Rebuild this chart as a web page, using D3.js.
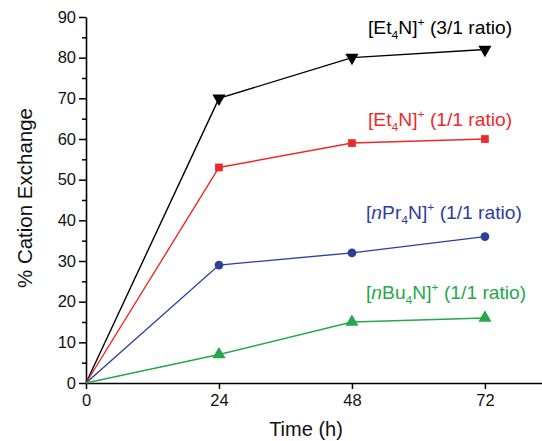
<!DOCTYPE html>
<html>
<head>
<meta charset="utf-8">
<script src="https://cdn.jsdelivr.net/npm/d3@7"></script>
<style>
body { margin: 0; background: #fff; }
text { font-family: Arial, "Liberation Sans", sans-serif; }
</style>
</head>
<body>
<svg id="chart" width="542" height="441"></svg>
<script>
// data
var hours = [0, 24, 48, 72];
var et4n31 = [0, 70, 80, 82];
var et4n11 = [0, 53, 59, 60];
var npr4n11 = [0, 29, 32, 36];
var nbu4n11 = [0, 7, 15, 16];
var xTicks = [0, 24, 48, 72];
var yTicks = [0, 10, 20, 30, 40, 50, 60, 70, 80, 90];

var series = [
	{name: "Et", sub: "4", pre: "", ratio: "3/1", values: et4n31, color: "#000000", symbol: "down", lx: 368, ly: 34},
	{name: "Et", sub: "4", pre: "", ratio: "1/1", values: et4n11, color: "#ec2a2a", symbol: "square", lx: 368, ly: 126},
	{name: "Pr", sub: "4", pre: "n", ratio: "1/1", values: npr4n11, color: "#2d3e9c", symbol: "circle", lx: 366, ly: 219},
	{name: "Bu", sub: "4", pre: "n", ratio: "1/1", values: nbu4n11, color: "#25a84a", symbol: "up", lx: 366, ly: 299}
];

var svg = d3.select("#chart"),
	margin = {top: 17, right: 0, bottom: 58, left: 86},
	width = +svg.attr("width") - margin.left - margin.right,
	height = +svg.attr("height") - margin.top - margin.bottom;

var x = d3.scaleLinear().domain([0, 82.3]).range([0, width]),
	y = d3.scaleLinear().domain([0, 90]).range([height, 0]);

var g = svg.append("g")
	.attr("transform", "translate(" + margin.left + "," + margin.top + ")");

// minor y ticks
g.append("g")
	.call(d3.axisLeft(y).tickValues(d3.range(5, 90, 10)).tickSize(4).tickFormat(""))
	.call(function(a) { a.select(".domain").remove(); })
	.selectAll("line").attr("stroke-width", 1.5);

var yAxis = g.append("g")
	.call(d3.axisLeft(y).tickValues(yTicks).tickSize(7).tickPadding(3).tickSizeOuter(0));
yAxis.selectAll("text").attr("font-size", 16.5).attr("fill", "#111");
yAxis.selectAll("line").attr("stroke-width", 1.5);
yAxis.select(".domain").attr("stroke-width", 1.6);

var xAxis = g.append("g")
	.attr("transform", "translate(0," + height + ")")
	.call(d3.axisBottom(x).tickValues(xTicks).tickSize(6).tickPadding(5).tickSizeOuter(0));
xAxis.selectAll("text").attr("font-size", 16.5).attr("fill", "#111");
xAxis.selectAll("line").attr("stroke-width", 1.5);
xAxis.select(".domain").attr("stroke-width", 1.6);

svg.append("text")
	.attr("transform", "translate(25," + (margin.top + height / 2 - 2) + ") rotate(-90)")
	.attr("text-anchor", "middle")
	.attr("dy", "0.35em")
	.attr("font-size", 20.5)
	.attr("fill", "#111")
	.text("% Cation Exchange");

svg.append("text")
	.attr("x", 306)
	.attr("y", 436)
	.attr("text-anchor", "middle")
	.attr("font-size", 20)
	.attr("fill", "#111")
	.text("Time (h)");

var line = d3.line()
	.x(function(d, i) { return x(hours[i]); })
	.y(function(d) { return y(d); });

var symbolType = {down: d3.symbolTriangle, up: d3.symbolTriangle, square: d3.symbolSquare, circle: d3.symbolCircle};
var symbolSize = {down: 75, up: 75, square: 60, circle: 60};

series.forEach(function(s) {
	g.append("path")
		.datum(s.values)
		.attr("fill", "none")
		.attr("stroke", s.color)
		.attr("stroke-width", 1.4)
		.attr("d", line);

	g.selectAll(".pt-" + s.symbol)
		.data(s.values.slice(1))
		.enter().append("path")
		.attr("transform", function(d, i) {
			return "translate(" + x(hours[i + 1]) + "," + y(d) + ")" + (s.symbol == "down" ? " rotate(180)" : "");
		})
		.attr("d", d3.symbol().type(symbolType[s.symbol]).size(symbolSize[s.symbol]))
		.attr("fill", s.color);

	var t = svg.append("text")
		.attr("transform", "translate(" + s.lx + "," + s.ly + ") scale(1.1,1)")
		.attr("font-size", 17.5)
		.attr("fill", s.color);
	t.append("tspan").text("[");
	if (s.pre) t.append("tspan").attr("font-style", "italic").text(s.pre);
	t.append("tspan").text(s.name);
	t.append("tspan").attr("font-size", 11).attr("dy", 5).text(s.sub);
	t.append("tspan").attr("dy", -5).text("N]");
	t.append("tspan").attr("font-size", 11).attr("dy", -8).text("+");
	t.append("tspan").attr("dy", 8).text(" (" + s.ratio + " ratio)");
});
</script>
</body>
</html>
